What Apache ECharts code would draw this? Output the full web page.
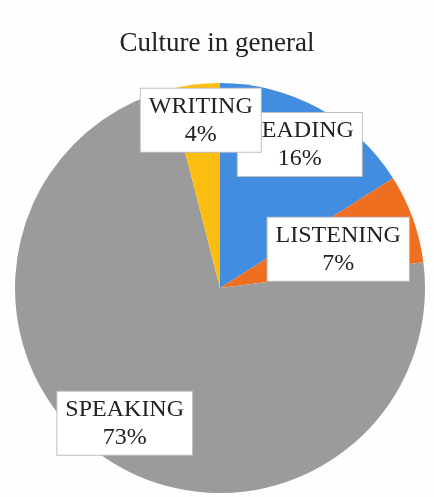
<!DOCTYPE html>
<html>
<head>
<meta charset="utf-8">
<title>Culture in general</title>
<script src="https://cdn.jsdelivr.net/npm/echarts@6/dist/echarts.min.js"></script>
<style>
  html, body { margin: 0; padding: 0; background: #ffffff; }
  #chart { width: 434px; height: 497px; }
</style>
</head>
<body>
<div id="chart"></div>
<script>
// Skill shares (percent), in drawing order clockwise from 12 o'clock
const categories = ['READING', 'LISTENING', 'SPEAKING', 'WRITING'];
const shares = [16, 7, 73, 4];
const sliceColors = ['#438de0', '#f06e20', '#9b9b9b', '#fbbd10'];

// Callout nudges (px) relative to the default inside-label anchor
const labelNudge = [
  [29, -51],
  [19, -3],
  [-36, 48],
  [-6, -63]
];

const chart = echarts.init(document.getElementById('chart'), null, { renderer: 'canvas' });

chart.setOption({
  backgroundColor: '#fefefe',
  animation: false,
  title: {
    text: 'Culture in general',
    left: 'center',
    top: 25,
    textStyle: {
      fontFamily: '"Liberation Serif", "DejaVu Serif", serif',
      fontSize: 27,
      fontWeight: 'normal',
      color: '#222222'
    }
  },
  series: [{
    type: 'pie',
    center: [220, 288],
    radius: 205,
    startAngle: 90,
    clockwise: true,
    itemStyle: { borderWidth: 0 },
    label: {
      show: true,
      position: 'inside',
      formatter: p => p.name + '\n' + p.value + '%',
      fontFamily: '"Liberation Serif", "DejaVu Serif", serif',
      fontSize: 24,
      lineHeight: 28,
      color: '#222222',
      align: 'center',
      backgroundColor: '#ffffff',
      borderColor: '#bfbfbf',
      borderWidth: 1,
      padding: [4, 8, 3, 8]
    },
    labelLine: { show: false },
    labelLayout: p => ({ dx: labelNudge[p.dataIndex][0], dy: labelNudge[p.dataIndex][1] }),
    emphasis: { disabled: true },
    data: categories.map((name, i) => ({
      name: name,
      value: shares[i],
      itemStyle: { color: sliceColors[i] }
    }))
  }]
});
</script>
</body>
</html>
